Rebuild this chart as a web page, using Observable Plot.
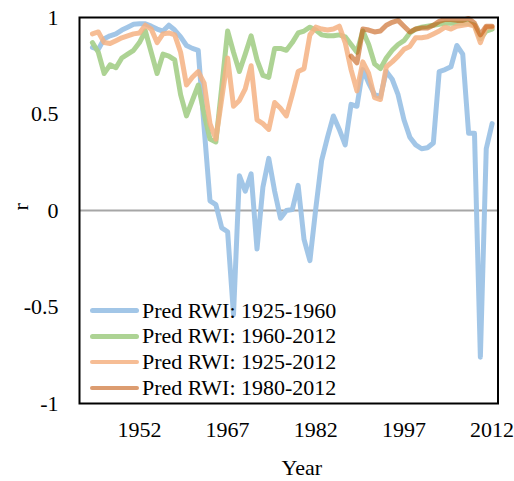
<!DOCTYPE html>
<html>
<head>
<meta charset="utf-8">
<script src="https://cdn.jsdelivr.net/npm/d3@7"></script>
<script src="https://cdn.jsdelivr.net/npm/@observablehq/plot@0.6"></script>
<style>
  body { margin: 0; background: #fff; }
  #wrap { position: relative; width: 514px; height: 481px; }
  #legend { position: absolute; left: 90px; top: 297.5px; font-family: "Liberation Serif", serif; font-size: 22px; color: #000; }
  .row { display: flex; align-items: center; height: 25.9px; line-height: 25.9px; white-space: nowrap; }
  .sw { width: 49px; height: 4.5px; border-radius: 3px; margin-right: 3px; }
</style>
</head>
<body>
<div id="wrap"></div>
<script>
const years = [1944,1945,1946,1947,1948,1949,1950,1951,1952,1953,1954,1955,1956,1957,1958,1959,
  1960,1961,1962,1963,1964,1965,1966,1967,1968,1969,1970,1971,1972,1973,1974,1975,1976,1977,1978,1979,
  1980,1981,1982,1983,1984,1985,1986,1987,1988,1989,1990,1991,1992,1993,1994,1995,1996,1997,1998,1999,
  2000,2001,2002,2003,2004,2005,2006,2007,2008,2009,2010,2011,2012];

const seriesNames = ["Pred RWI: 1925-1960", "Pred RWI: 1960-2012", "Pred RWI: 1925-2012", "Pred RWI: 1980-2012"];
const seriesColors = ["#9DC3E6", "#A9D18E", "#F4B183", "#C55A11"];
const seriesOpacity = [0.95, 0.95, 0.85, 0.6];

const pred1925_1960 = [0.845,0.835,0.89,0.905,0.915,0.935,0.95,0.965,0.967,0.967,0.955,0.94,0.93,0.96,0.935,0.90,
  0.855,0.84,0.83,0.43,0.05,0.03,-0.09,-0.11,-0.54,0.18,0.10,0.19,-0.20,0.12,0.27,0.10,-0.04,0.00,0.005,0.13,
  -0.15,-0.26,0.01,0.26,0.38,0.49,0.42,0.34,0.55,0.54,0.73,0.66,0.60,0.59,0.72,0.68,0.60,0.47,0.38,0.34,
  0.32,0.325,0.35,0.72,0.73,0.745,0.855,0.81,0.40,0.40,-0.76,0.32,0.45];

const pred1960_2012 = [0.87,0.82,0.71,0.755,0.74,0.79,0.81,0.83,0.87,0.93,0.82,0.71,0.81,0.80,0.78,0.60,
  0.49,0.57,0.65,0.50,0.37,0.355,0.64,0.93,0.82,0.72,0.81,0.905,0.78,0.70,0.69,0.84,0.84,0.83,0.87,0.92,
  0.93,0.95,0.935,0.91,0.905,0.905,0.91,0.90,0.86,0.82,0.93,0.86,0.76,0.735,0.79,0.83,0.86,0.88,0.92,0.94,
  0.95,0.955,0.96,0.965,0.97,0.97,0.97,0.97,0.97,0.96,0.89,0.93,0.94];

const pred1925_2012 = [0.915,0.925,0.87,0.865,0.88,0.895,0.905,0.915,0.92,0.96,0.94,0.87,0.915,0.92,0.91,0.82,
  0.65,0.69,0.72,0.66,0.45,0.37,0.58,0.79,0.54,0.57,0.63,0.75,0.47,0.45,0.42,0.56,0.53,0.49,0.60,0.72,
  0.735,0.91,0.95,0.94,0.935,0.94,0.955,0.87,0.73,0.62,0.77,0.71,0.585,0.575,0.745,0.77,0.80,0.835,0.85,0.895,
  0.895,0.90,0.915,0.93,0.95,0.94,0.955,0.96,0.965,0.955,0.87,0.95,0.95];

const pred1980_2012 = [null,null,null,null,null,null,null,null,null,null,null,null,null,null,null,null,
  null,null,null,null,null,null,null,null,null,null,null,null,null,null,null,null,null,null,null,null,
  null,null,null,null,null,null,null,null,0.80,0.765,0.94,0.935,0.925,0.93,0.96,0.975,0.985,0.955,0.925,0.94,
  0.945,0.945,0.96,0.98,0.99,0.99,0.985,0.985,0.995,0.97,0.91,0.955,0.955];

const xTicks = [1952, 1967, 1982, 1997, 2012];
const yTicks = [-1, -0.5, 0, 0.5, 1];

const allSeries = [pred1925_1960, pred1960_2012, pred1925_2012, pred1980_2012];

const lineMarks = allSeries.map((vals, i) => {
  const rows = years.map((y, j) => ({year: y, r: vals[j]}));
  return Plot.line(rows, {
    x: "year", y: "r",
    stroke: seriesColors[i], strokeOpacity: seriesOpacity[i],
    strokeWidth: 5, strokeLinejoin: "round", strokeLinecap: "round"
  });
});

const chart = Plot.plot({
  width: 514,
  height: 481,
  marginLeft: 79,
  marginRight: 16.5,
  marginTop: 17,
  marginBottom: 78,
  style: {fontFamily: "Liberation Serif", fontSize: "22px", background: "#fff", color: "#000"},
  x: {domain: [1941.8, 2013]},
  y: {domain: [-1, 1]},
  marks: [
    Plot.ruleY([0], {stroke: "#A6A6A6", strokeWidth: 2}),
    ...lineMarks,
    Plot.frame({stroke: "#000", strokeWidth: 2}),
    Plot.axisY({ticks: yTicks, tickSize: 0, tickPadding: 21, tickFormat: d => String(d), label: null, fontSize: 22}),
    Plot.axisX({ticks: xTicks, tickSize: 0, tickPadding: 18, tickFormat: d => String(d), label: null, fontSize: 22}),
    Plot.text(["r"], {text: d => d, frameAnchor: "left", dx: -59, rotate: -90, fontSize: 22, lineAnchor: "middle"}),
    Plot.text(["Year"], {text: d => d, frameAnchor: "bottom", dx: 13, dy: 64, fontSize: 22, lineAnchor: "middle"})
  ]
});

const wrap = document.getElementById("wrap");
wrap.appendChild(chart);

const legend = document.createElement("div");
legend.id = "legend";
seriesNames.forEach((name, i) => {
  const row = document.createElement("div");
  row.className = "row";
  const sw = document.createElement("div");
  sw.className = "sw";
  sw.style.background = seriesColors[i];
  sw.style.opacity = seriesOpacity[i];
  const t = document.createElement("span");
  t.textContent = name;
  row.appendChild(sw);
  row.appendChild(t);
  legend.appendChild(row);
});
wrap.appendChild(legend);
</script>
</body>
</html>
